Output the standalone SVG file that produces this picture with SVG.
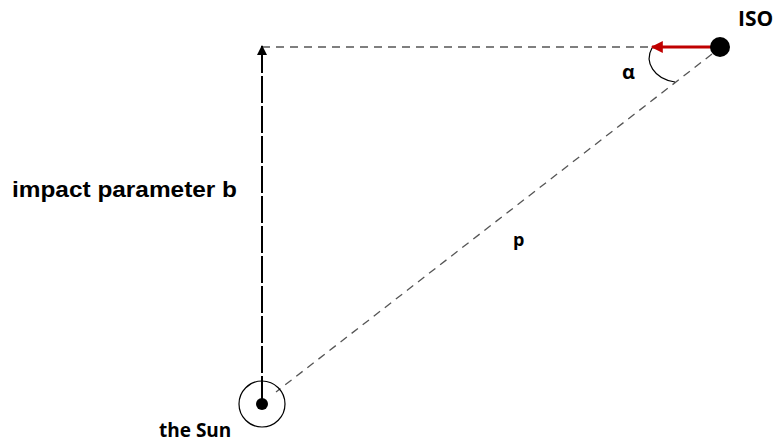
<svg xmlns="http://www.w3.org/2000/svg" width="773" height="444" viewBox="0 0 773 444">
<style>
.lbl{font-family:"Liberation Sans",Arial,sans-serif;font-weight:bold;fill:#000}
.cal{font-family:"Open Sans","Noto Sans",sans-serif;font-weight:bold;fill:#000}
.dash{stroke:#555;stroke-width:1.3;stroke-dasharray:8 6;fill:none}
</style>
<defs>
<marker id="ah" viewBox="0 0 10 10" refX="9" refY="5" markerWidth="5" markerHeight="5" orient="auto" markerUnits="strokeWidth"><path d="M0,0 L10,5 L0,10 z" fill="#000"/></marker>
<marker id="ahr" viewBox="0 0 10 10" refX="9" refY="5" markerWidth="4.5" markerHeight="4" orient="auto" markerUnits="strokeWidth"><path d="M0,0 L10,5 L0,10 z" fill="#C00000"/></marker>
</defs>
<g id="connectors">
<line class="dash" x1="262" y1="47" x2="656" y2="47"/>
<line class="dash" x1="712" y1="54" x2="276" y2="392"/>
<line x1="262" y1="403" x2="262" y2="46" stroke="#000" stroke-width="2" stroke-dasharray="27 3" marker-end="url(#ah)"/>
<line x1="716" y1="47" x2="652" y2="47" stroke="#C00000" stroke-width="3" marker-end="url(#ahr)"/>
<path d="M652,48 C644,62 654,79 675,82" fill="none" stroke="#000" stroke-width="1.2"/>
</g>
<g id="sun">
<circle cx="262" cy="404" r="23" fill="none" stroke="#000" stroke-width="1.2"/>
<circle cx="262" cy="404" r="6" fill="#000"/>
<text class="cal" x="159" y="437" font-size="19">the Sun</text>
</g>
<g id="iso">
<circle cx="720" cy="47" r="10" fill="#000"/>
<text class="cal" x="738" y="26" font-size="21">ISO</text>
</g>
<g id="labels">
<text class="lbl" x="12" y="197" font-size="22" textLength="225" lengthAdjust="spacingAndGlyphs">impact parameter b</text>
<text class="cal" x="622" y="79" font-size="20">α</text>
<text class="cal" x="513" y="246" font-size="18">p</text>
</g>
</svg>
